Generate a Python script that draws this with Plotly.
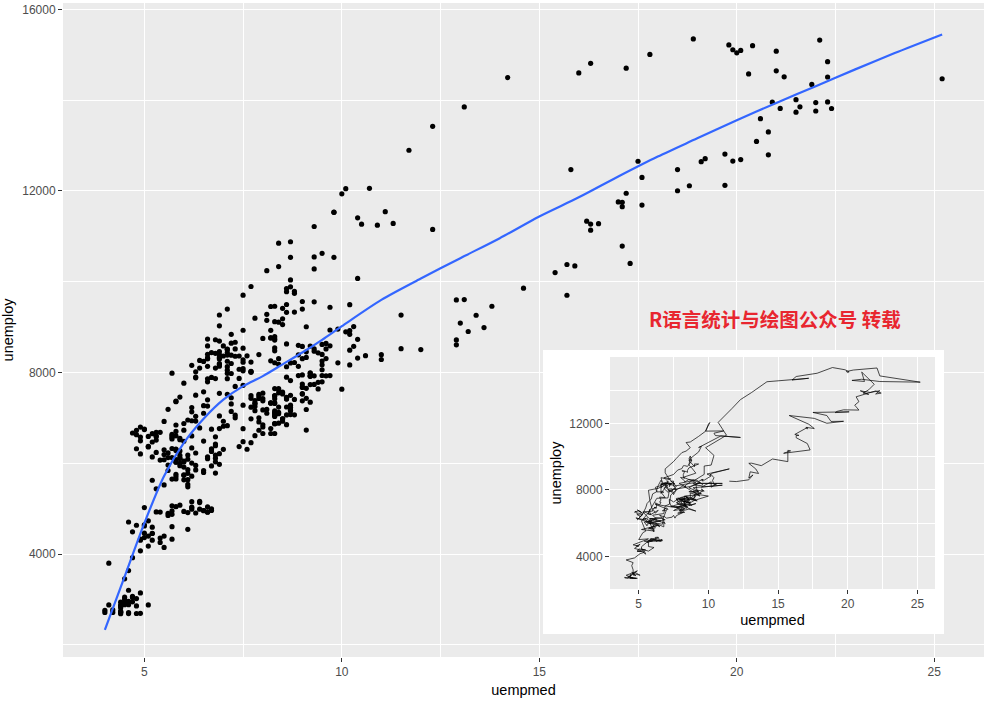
import plotly.graph_objects as go

# ---------------- data (economics: monthly, Jul 1967 - Apr 2015) ----------------
uempmed = [
    # 1967 (Jul-Dec)
    4.5, 4.7, 4.6, 4.9, 4.7, 4.8,
    # 1968
    5.1, 4.5, 4.1, 4.6, 4.4, 4.4, 4.5, 4.2, 4.6, 4.8, 4.4, 4.4,
    # 1969
    4.4, 4.9, 4.0, 4.0, 4.2, 4.4, 4.4, 4.4, 4.7, 4.5, 4.8, 4.6,
    # 1970
    4.6, 4.5, 4.6, 4.1, 4.7, 4.9, 5.1, 5.4, 5.2, 5.2, 5.6, 5.9,
    # 1971
    6.2, 6.3, 6.4, 6.5, 6.7, 5.7, 6.2, 6.4, 5.8, 6.5, 6.4, 6.2,
    # 1972
    6.2, 6.6, 6.6, 6.7, 6.6, 5.4, 6.1, 6.0, 5.6, 5.7, 5.7, 6.1,
    # 1973
    5.7, 5.2, 5.5, 5.0, 4.9, 5.0, 5.2, 4.9, 5.4, 5.5, 5.1, 4.7,
    # 1974
    5.0, 5.1, 4.8, 5.0, 4.6, 5.3, 5.7, 5.0, 5.3, 5.5, 5.2, 5.7,
    # 1975
    6.3, 7.1, 7.2, 8.7, 9.4, 8.8, 8.6, 9.2, 9.2, 8.6, 9.5, 9.0,
    # 1976
    9.0, 8.2, 8.7, 8.2, 8.3, 7.8, 7.7, 7.9, 7.8, 7.7, 8.4, 8.0,
    # 1977
    7.5, 7.2, 7.2, 7.3, 7.9, 6.2, 7.1, 7.0, 6.7, 6.9, 7.0, 6.8,
    # 1978
    6.5, 6.7, 6.2, 6.1, 5.7, 6.0, 5.8, 5.8, 5.6, 5.9, 5.5, 5.6,
    # 1979
    5.9, 5.9, 5.9, 5.4, 5.6, 5.6, 5.9, 4.8, 5.5, 5.5, 5.3, 5.7,
    # 1980
    5.3, 5.8, 6.0, 5.8, 5.7, 6.4, 7.0, 7.5, 7.7, 7.5, 7.7, 7.5,
    # 1981
    7.4, 7.1, 7.1, 7.4, 6.9, 6.8, 7.1, 7.5, 7.7, 7.2, 6.9, 6.9,
    # 1982
    7.1, 7.5, 7.7, 8.1, 8.4, 8.7, 8.4, 8.7, 9.3, 9.8, 10.0, 10.1,
    # 1983
    9.8, 11.1, 10.4, 10.5, 12.3, 10.9, 9.3, 9.5, 9.3, 8.7, 8.6, 8.8,
    # 1984
    9.1, 8.3, 8.3, 8.2, 9.1, 7.5, 7.5, 7.3, 7.6, 7.2, 7.2, 7.3,
    # 1985
    6.8, 6.6, 6.9, 6.9, 6.6, 6.9, 7.1, 6.9, 7.1, 6.9, 7.1, 6.9,
    # 1986
    6.6, 6.6, 7.1, 7.4, 7.1, 7.1, 6.9, 6.6, 6.6, 6.5, 6.2, 6.3,
    # 1987
    6.7, 6.8, 6.6, 6.9, 6.5, 6.6, 6.5, 6.6, 6.5, 6.2, 6.3, 6.2,
    # 1988
    6.1, 6.3, 6.0, 6.2, 6.4, 5.9, 5.8, 5.8, 5.7, 5.7, 5.7, 5.9,
    # 1989
    5.4, 5.1, 4.9, 5.2, 5.1, 4.9, 4.9, 5.3, 5.1, 4.8, 4.8, 4.7,
    # 1990
    5.0, 5.2, 5.3, 4.9, 5.0, 5.3, 5.5, 5.6, 5.8, 5.9, 6.0, 6.3,
    # 1991
    6.3, 6.4, 6.6, 6.7, 6.6, 6.9, 7.0, 7.3, 6.8, 7.2, 7.5, 7.8,
    # 1992
    8.1, 8.2, 8.3, 8.5, 8.8, 8.7, 8.6, 8.8, 8.6, 9.0, 9.0, 9.3,
    # 1993
    8.6, 8.5, 8.5, 8.4, 8.1, 8.3, 8.2, 8.2, 8.3, 8.0, 8.3, 8.3,
    # 1994
    8.6, 9.2, 9.3, 9.1, 9.2, 9.3, 9.0, 8.9, 9.2, 10.0, 9.0, 8.7,
    # 1995
    8.0, 8.1, 8.3, 8.3, 9.1, 7.9, 8.5, 8.3, 7.9, 8.2, 8.0, 8.3,
    # 1996
    8.3, 7.8, 8.3, 8.6, 8.6, 8.3, 8.3, 8.4, 8.5, 8.3, 7.7, 7.8,
    # 1997
    7.8, 8.1, 7.9, 8.3, 8.0, 8.0, 8.3, 7.8, 8.2, 7.7, 7.6, 7.5,
    # 1998
    7.4, 7.0, 6.8, 6.7, 6.0, 6.9, 6.7, 6.8, 6.7, 5.8, 6.6, 6.8,
    # 1999
    6.9, 6.8, 6.8, 6.2, 6.5, 6.3, 5.8, 6.5, 6.0, 6.1, 6.2, 5.8,
    # 2000
    5.8, 6.1, 6.0, 6.1, 5.8, 5.7, 6.0, 6.3, 5.2, 6.1, 6.1, 6.0,
    # 2001
    5.8, 6.1, 6.6, 5.9, 6.3, 6.0, 6.8, 6.9, 7.2, 7.3, 7.7, 8.2,
    # 2002
    8.4, 8.3, 8.4, 8.9, 9.5, 11.0, 8.9, 9.0, 9.5, 9.6, 9.3, 9.6,
    # 2003
    9.6, 9.5, 9.7, 10.2, 9.9, 11.5, 10.3, 10.1, 10.2, 10.4, 10.3, 10.4,
    # 2004
    10.6, 10.2, 10.2, 9.5, 9.9, 11.0, 8.9, 9.2, 9.6, 9.5, 9.7, 9.5,
    # 2005
    9.4, 9.2, 9.3, 9.0, 9.1, 9.0, 8.8, 9.2, 8.4, 8.6, 8.5, 8.7,
    # 2006
    8.6, 9.1, 8.7, 8.4, 8.5, 7.3, 8.0, 8.4, 8.0, 7.9, 8.3, 7.5,
    # 2007
    8.3, 8.5, 9.1, 8.6, 8.2, 7.7, 8.7, 8.8, 8.7, 8.4, 8.6, 8.4,
    # 2008
    9.0, 8.7, 8.7, 9.4, 7.9, 9.0, 9.7, 9.7, 10.2, 10.4, 9.8, 11.3,
    # 2009
    10.7, 11.7, 12.3, 13.1, 14.2, 17.2, 16.0, 16.3, 17.8, 18.9, 19.8, 20.1,
    # 2010
    20.0, 19.9, 20.4, 22.1, 22.3, 25.2, 22.3, 21.0, 20.3, 21.2, 21.0, 21.9,
    # 2011
    21.5, 21.1, 21.5, 20.9, 21.6, 22.3, 22.0, 22.4, 22.0, 20.6, 20.8, 20.5,
    # 2012
    20.8, 19.7, 19.2, 19.1, 19.9, 20.1, 17.5, 18.5, 18.8, 19.7, 18.5, 17.6,
    # 2013
    15.8, 17.2, 17.6, 17.0, 17.1, 17.1, 16.2, 16.5, 16.3, 16.3, 17.1, 17.3,
    # 2014
    15.4, 15.9, 15.7, 15.7, 14.6, 13.8, 13.1, 12.9, 13.4, 13.6, 13.0, 12.9,
    # 2015 (Jan-Apr)
    13.2, 12.9, 12.0, 11.5,
]

unemploy = [
    # 1967 (Jul-Dec)
    2944, 2945, 2958, 3143, 3066, 3018,
    # 1968
    2878, 3001, 2877, 2709, 2740, 2938, 2883, 2768, 2686, 2689, 2715, 2685,
    # 1969
    2718, 2692, 2712, 2758, 2713, 2816, 2868, 2856, 3040, 3049, 2856, 2884,
    # 1970
    3201, 3453, 3635, 3797, 3919, 4071, 4175, 4256, 4456, 4591, 4898, 5076,
    # 1971
    4986, 4903, 4987, 4959, 4996, 4949, 5035, 5134, 5042, 4954, 5161, 5154,
    # 1972
    5019, 4928, 5038, 4959, 4922, 4923, 4913, 4939, 4849, 4875, 4602, 4543,
    # 1973
    4326, 4452, 4394, 4459, 4329, 4363, 4305, 4305, 4350, 4144, 4396, 4489,
    # 1974
    4644, 4731, 4634, 4618, 4705, 4927, 5063, 5022, 5437, 5523, 6140, 6636,
    # 1975
    7501, 7520, 7978, 8210, 8433, 8220, 8127, 7928, 7923, 7897, 7794, 7744,
    # 1976
    7534, 7326, 7230, 7330, 7053, 7322, 7490, 7518, 7380, 7430, 7620, 7545,
    # 1977
    7280, 7443, 7307, 7059, 6911, 7134, 6829, 6925, 6751, 6763, 6815, 6386,
    # 1978
    6489, 6318, 6337, 6180, 6127, 6028, 6309, 6080, 6125, 5947, 6077, 6228,
    # 1979
    6109, 6173, 6109, 6069, 5840, 5959, 5996, 6320, 6190, 6296, 6238, 6325,
    # 1980
    6683, 6702, 6729, 7358, 7984, 8098, 8363, 8281, 8021, 8088, 8023, 7718,
    # 1981
    8071, 8051, 7982, 7869, 8174, 8098, 7863, 8036, 8230, 8646, 9029, 9267,
    # 1982
    9397, 9705, 9895, 10244, 10335, 10538, 10849, 10881, 11217, 11529, 11938, 12051,
    # 1983
    11534, 11545, 11408, 11268, 11154, 11246, 10548, 10623, 10282, 9887, 9499, 9331,
    # 1984
    9008, 8791, 8746, 8762, 8456, 8226, 8537, 8519, 8367, 8381, 8198, 8358,
    # 1985
    8423, 8321, 8339, 8395, 8302, 8460, 8513, 8196, 8248, 8298, 8128, 8138,
    # 1986
    7795, 8402, 8383, 8364, 8439, 8508, 8319, 8135, 8310, 8243, 8159, 7883,
    # 1987
    7892, 7865, 7862, 7542, 7574, 7398, 7268, 7261, 7102, 7227, 7035, 6936,
    # 1988
    6953, 6929, 6876, 6601, 6779, 6546, 6605, 6843, 6604, 6568, 6537, 6518,
    # 1989
    6682, 6359, 6205, 6468, 6375, 6577, 6495, 6511, 6590, 6630, 6725, 6667,
    # 1990
    6752, 6651, 6598, 6797, 6742, 6590, 6922, 7188, 7368, 7459, 7764, 7901,
    # 1991
    8015, 8265, 8586, 8439, 8736, 8692, 8586, 8666, 8722, 8842, 8931, 9198,
    # 1992
    9283, 9454, 9460, 9415, 9744, 10040, 9850, 9787, 9781, 9398, 9565, 9557,
    # 1993
    9325, 9183, 9056, 9110, 9149, 9121, 8930, 8763, 8714, 8750, 8542, 8477,
    # 1994
    8630, 8583, 8470, 8331, 7915, 7927, 7946, 7933, 7734, 7632, 7375, 7230,
    # 1995
    7375, 7187, 7153, 7645, 7430, 7427, 7527, 7484, 7478, 7328, 7426, 7423,
    # 1996
    7491, 7313, 7318, 7415, 7423, 7095, 7337, 6882, 6979, 7031, 7236, 7253,
    # 1997
    7158, 7102, 7000, 6873, 6655, 6799, 6655, 6608, 6656, 6454, 6308, 6476,
    # 1998
    6368, 6306, 6422, 5941, 6047, 6212, 6259, 6179, 6300, 6280, 6100, 6032,
    # 1999
    5976, 6111, 5783, 6004, 5796, 5951, 6025, 5838, 5915, 5778, 5716, 5653,
    # 2000
    5708, 5858, 5733, 5481, 5758, 5651, 5747, 5853, 5625, 5534, 5639, 5634,
    # 2001
    6023, 6089, 6141, 6271, 6226, 6484, 6583, 7042, 7142, 7694, 8003, 8258,
    # 2002
    8182, 8215, 8304, 8599, 8399, 8393, 8390, 8304, 8251, 8307, 8520, 8640,
    # 2003
    8520, 8618, 8588, 8842, 8957, 9266, 9011, 8896, 8921, 8732, 8576, 8317,
    # 2004
    8370, 8167, 8491, 8170, 8212, 8286, 8136, 7990, 7927, 8061, 7932, 7934,
    # 2005
    7784, 7980, 7737, 7672, 7651, 7524, 7406, 7345, 7553, 7453, 7566, 7279,
    # 2006
    7064, 7184, 7072, 7120, 6980, 7001, 7175, 7091, 6847, 6727, 6872, 6762,
    # 2007
    7116, 6927, 6731, 6850, 6766, 6979, 7149, 7067, 7170, 7237, 7240, 7645,
    # 2008
    7685, 7497, 7822, 7637, 8395, 8575, 8937, 9438, 9494, 10074, 10538, 11286,
    # 2009
    12058, 12898, 13426, 13853, 14499, 14707, 14601, 14814, 15009, 15352, 15219, 15098,
    # 2010
    15046, 15113, 15202, 15325, 14849, 14474, 14512, 14648, 14579, 14516, 15081, 14348,
    # 2011
    14013, 13820, 13737, 13957, 13855, 13962, 13763, 13818, 13948, 13594, 13302, 13093,
    # 2012
    12797, 12813, 12713, 12646, 12660, 12692, 12656, 12471, 12115, 12124, 12005, 12298,
    # 2013
    12471, 11950, 11689, 11760, 11654, 11751, 11335, 11279, 11270, 11136, 10787, 10404,
    # 2014
    10202, 10349, 10380, 9702, 9859, 9460, 9608, 9599, 9262, 8990, 9090, 8717,
    # 2015 (Jan-Apr)
    8903, 8610, 8504, 8526,
]

# loess smooth
smooth_x = [4.0, 4.5, 5.0, 5.5, 6.0, 6.5, 7.0, 7.5, 8.0, 8.5, 9.0, 9.5, 10.0,
            11.0, 12.0, 13.0, 14.0, 15.0, 16.0, 17.0, 18.0, 19.0, 20.0, 21.0,
            22.0, 23.0, 24.0, 25.2]
smooth_y = [2330, 3500, 4680, 5720, 6450, 6980, 7400, 7700, 7920, 8180, 8440,
            8720, 9020, 9600, 10070, 10520, 10960, 11440, 11860, 12320, 12760,
            13160, 13560, 13940, 14310, 14680, 15040, 15450]

x_ticks = [5, 10, 15, 20, 25]
x_minor = [7.5, 12.5, 17.5, 22.5]
y_ticks_main = [4000, 8000, 12000, 16000]
y_minor_main = [2000, 6000, 10000, 14000]
y_ticks_inset = [4000, 8000, 12000]
y_minor_inset = [6000, 10000, 14000]

watermark = "R语言统计与绘图公众号 转载"

# ---------------- figure ----------------
W, H = 988, 702
ML, MR, MT, MB = 63, 4, 3, 45
PW, PH = W - ML - MR, H - MT - MB


def dx(px):
    return (px - ML) / PW


def dy(py):
    return (H - MB - py) / PH


GRID = "white"
TICKFONT = dict(family="Liberation Sans, Arial, sans-serif", size=12, color="#4D4D4D")
TITLEFONT = dict(family="Liberation Sans, Arial, sans-serif", size=14.5, color="black")

fig = go.Figure()

fig.add_trace(go.Scatter(
    x=uempmed, y=unemploy, mode="markers",
    marker=dict(color="black", size=5.2, line=dict(width=0)),
    xaxis="x", yaxis="y", showlegend=False, hoverinfo="skip"))

fig.add_trace(go.Scatter(
    x=smooth_x, y=smooth_y, mode="lines",
    line=dict(color="#3366FF", width=2.2, shape="spline", smoothing=0.8),
    xaxis="x", yaxis="y", showlegend=False, hoverinfo="skip"))

# dummy subplot that carries the white background of the inset
fig.add_trace(go.Scatter(x=[], y=[], mode="markers", xaxis="x2", yaxis="y2",
                         showlegend=False, hoverinfo="skip"))

fig.add_trace(go.Scatter(
    x=uempmed, y=unemploy, mode="lines",
    line=dict(color="black", width=0.7),
    xaxis="x3", yaxis="y3", showlegend=False, hoverinfo="skip"))

common_axis = dict(
    showgrid=True, gridcolor=GRID, zeroline=False, showline=False,
    ticks="outside", ticklen=4, tickwidth=1, tickcolor="#333333",
    tickfont=TICKFONT, title_font=TITLEFONT, tickformat="d",
)

fig.update_layout(
    width=W, height=H,
    margin=dict(l=ML, r=MR, t=MT, b=MB),
    paper_bgcolor="white", plot_bgcolor="#EBEBEB",
    showlegend=False,
    xaxis=dict(
        **common_axis, domain=[0, 1], range=[2.94, 26.26],
        tickmode="array", tickvals=x_ticks, gridwidth=1.3,
        minor=dict(tickmode="array", tickvals=x_minor, showgrid=True,
                   gridcolor=GRID, gridwidth=0.6, ticks=""),
        title=dict(text="uempmed", standoff=6), anchor="y",
    ),
    yaxis=dict(
        **common_axis, domain=[0, 1], range=[1730, 16143],
        tickmode="array", tickvals=y_ticks_main, gridwidth=1.3,
        minor=dict(tickmode="array", tickvals=y_minor_main, showgrid=True,
                   gridcolor=GRID, gridwidth=0.6, ticks=""),
        title=dict(text="unemploy", standoff=6), anchor="x",
    ),
    xaxis2=dict(domain=[dx(543), dx(944)], range=[0, 1], visible=False,
                showgrid=False, zeroline=False, anchor="y2"),
    yaxis2=dict(domain=[dy(634), dy(350)], range=[0, 1], visible=False,
                showgrid=False, zeroline=False, anchor="x2"),
    xaxis3=dict(
        **common_axis, domain=[dx(610), dx(935)], range=[2.94, 26.26],
        tickmode="array", tickvals=x_ticks, gridwidth=1.3,
        minor=dict(tickmode="array", tickvals=x_minor, showgrid=True,
                   gridcolor=GRID, gridwidth=0.6, ticks=""),
        title=dict(text="uempmed", standoff=4), anchor="y3",
    ),
    yaxis3=dict(
        **common_axis, domain=[dy(589), dy(357)], range=[2052, 15985],
        tickmode="array", tickvals=y_ticks_inset, gridwidth=1.3,
        minor=dict(tickmode="array", tickvals=y_minor_inset, showgrid=True,
                   gridcolor=GRID, gridwidth=0.6, ticks=""),
        title=dict(text="unemploy", standoff=4), anchor="x3",
    ),
    shapes=[dict(type="rect", xref="x2", yref="y2", x0=0, x1=1, y0=0, y1=1,
                 fillcolor="white", line=dict(width=0), layer="below")],
    annotations=[dict(
        text="<b>" + watermark + "</b>", xref="paper", yref="paper",
        x=dx(775), y=dy(318), xanchor="center", yanchor="middle",
        showarrow=False,
        font=dict(family="Noto Sans CJK SC", size=19.5, color="#E8262F"))],
)

fig.write_html("out.html")
